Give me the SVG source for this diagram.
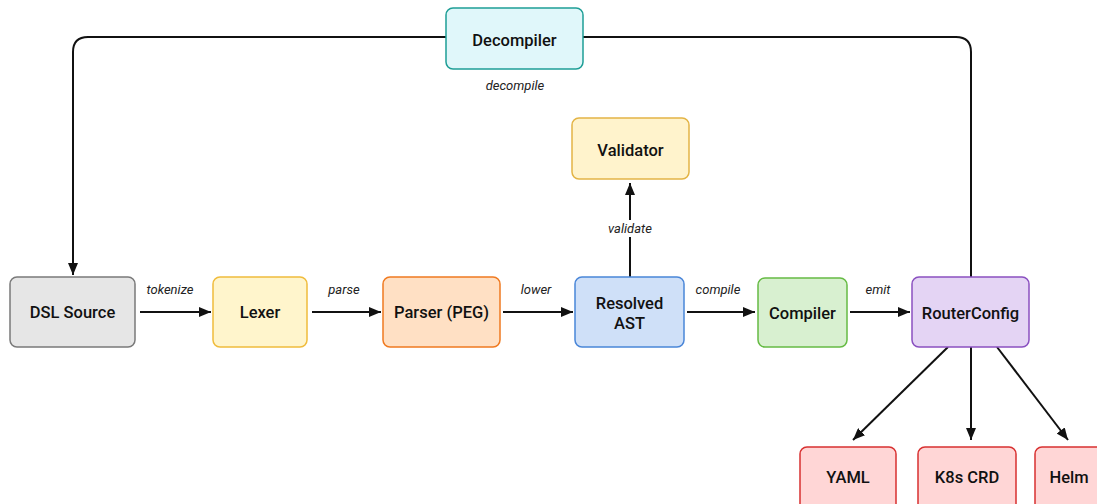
<svg xmlns="http://www.w3.org/2000/svg" width="1097" height="504" viewBox="0 0 1097 504">
<style>
.box{stroke-width:1.5}
.lbl{font-family:Roboto,"Liberation Sans",sans-serif;font-size:16.5px;font-weight:500;fill:#111;text-anchor:middle;dominant-baseline:central}
.el{font-family:Roboto,"Liberation Sans",sans-serif;font-size:13px;font-style:italic;fill:#222;text-anchor:middle;dominant-baseline:central}
.c{fill:none;stroke:#111;stroke-width:2}
</style>
<defs>
<marker id="ah" viewBox="0 0 12 10" refX="12" refY="5" markerWidth="12" markerHeight="10" markerUnits="userSpaceOnUse" orient="auto">
<path d="M0,0 L12,5 L0,10 z" fill="#111"/>
</marker>
</defs>
<rect width="1097" height="504" fill="#fff"/>
<g id="connectors">
<path class="c" d="M140 312 H211" marker-end="url(#ah)"/>
<path class="c" d="M312 312 H381" marker-end="url(#ah)"/>
<path class="c" d="M503 312 H573" marker-end="url(#ah)"/>
<path class="c" d="M687 312 H755" marker-end="url(#ah)"/>
<path class="c" d="M850 312 H910" marker-end="url(#ah)"/>
<path class="c" d="M630 277 V183" marker-end="url(#ah)"/>
<path class="c" d="M971 277 V52 Q971 37 956 37 H583"/>
<path class="c" d="M446 37 H88 Q73 37 73 52 V275" marker-end="url(#ah)"/>
<path class="c" d="M948 347 L853 440" marker-end="url(#ah)"/>
<path class="c" d="M971 347 V440" marker-end="url(#ah)"/>
<path class="c" d="M997 347 L1068 440" marker-end="url(#ah)"/>
<rect x="601" y="220" width="58" height="17" fill="#fff"/>
<text class="el" x="170" y="289">tokenize</text>
<text class="el" x="344" y="289">parse</text>
<text class="el" x="536" y="289">lower</text>
<text class="el" x="718" y="289">compile</text>
<text class="el" x="878" y="289">emit</text>
<text class="el" x="630" y="228">validate</text>
<text class="el" x="515" y="85">decompile</text>
</g>
<g id="decompiler"><rect class="box" x="446" y="8" width="137" height="61" rx="7" fill="#e0f7fa" stroke="#1e9e96"/><text class="lbl" x="514.5" y="40">Decompiler</text></g>
<g id="validator"><rect class="box" x="572" y="118" width="117" height="61" rx="7" fill="#fff3cc" stroke="#e3b445"/><text class="lbl" x="630.5" y="150">Validator</text></g>
<g id="dsl-source"><rect class="box" x="10" y="277" width="125" height="70" rx="7" fill="#e6e6e6" stroke="#7a7a7a"/><text class="lbl" x="72.5" y="312">DSL Source</text></g>
<g id="lexer"><rect class="box" x="213" y="277" width="94" height="70" rx="7" fill="#fff5cc" stroke="#f0bc3c"/><text class="lbl" x="260" y="312">Lexer</text></g>
<g id="parser"><rect class="box" x="383" y="277" width="117" height="70" rx="7" fill="#ffe0c4" stroke="#f07a20"/><text class="lbl" x="441.5" y="312">Parser (PEG)</text></g>
<g id="resolved-ast"><rect class="box" x="575" y="277" width="109" height="70" rx="7" fill="#cfe0f8" stroke="#4a86d8"/><text class="lbl" x="629.5" y="303">Resolved</text><text class="lbl" x="629.5" y="323">AST</text></g>
<g id="compiler"><rect class="box" x="758" y="278" width="89" height="69" rx="7" fill="#d8f0d0" stroke="#66bb44"/><text class="lbl" x="802.5" y="313">Compiler</text></g>
<g id="routerconfig"><rect class="box" x="912" y="277" width="117" height="70" rx="7" fill="#e4d4f4" stroke="#8a50c0"/><text class="lbl" x="970.5" y="313">RouterConfig</text></g>
<g id="yaml"><rect class="box" x="800" y="447" width="96" height="70" rx="7" fill="#ffd6d6" stroke="#d83030"/><text class="lbl" x="848" y="477">YAML</text></g>
<g id="k8s-crd"><rect class="box" x="918" y="447" width="98" height="70" rx="7" fill="#ffd6d6" stroke="#d83030"/><text class="lbl" x="967" y="477">K8s CRD</text></g>
<g id="helm"><rect class="box" x="1035" y="447" width="96" height="70" rx="7" fill="#ffd6d6" stroke="#d83030"/><text class="lbl" x="1069" y="477">Helm</text></g>
</svg>
